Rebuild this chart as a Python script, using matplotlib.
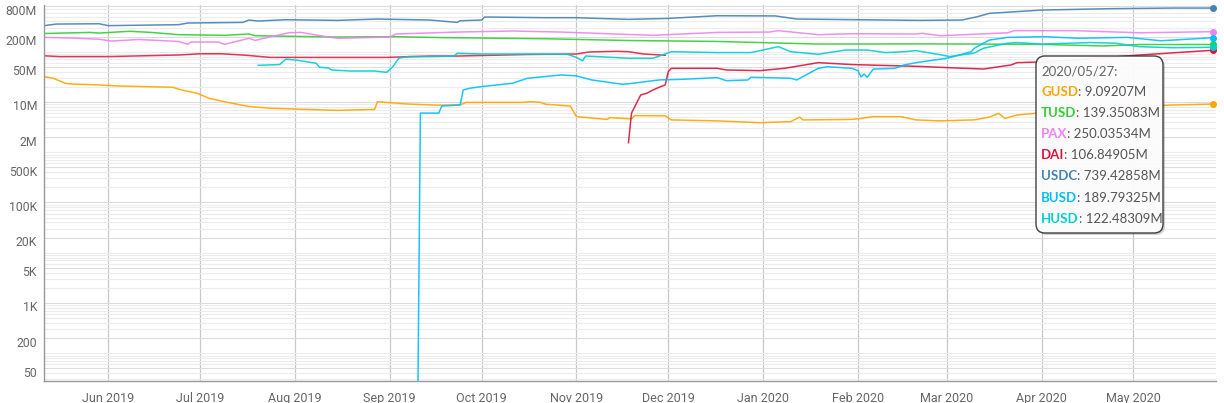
import matplotlib
matplotlib.use("Agg")
import matplotlib.pyplot as plt
import matplotlib.dates as mdates
import matplotlib.ticker as mticker
import matplotlib.transforms as mtrans
from matplotlib.patches import FancyBboxPatch
import pandas as pd

# values in millions of USD
gusd_dates = ["2019-05-11", "2019-05-14", "2019-05-18", "2019-05-20", "2019-05-29", "2019-06-04",
              "2019-06-22", "2019-06-25", "2019-06-30", "2019-07-04", "2019-07-09", "2019-07-17",
              "2019-07-24", "2019-08-05", "2019-08-15", "2019-08-27", "2019-08-28", "2019-09-07",
              "2019-09-17", "2019-09-24", "2019-09-26", "2019-10-14", "2019-10-17", "2019-10-20",
              "2019-10-22", "2019-10-30", "2019-11-01", "2019-11-11", "2019-11-12", "2019-11-19",
              "2019-11-20", "2019-11-30", "2019-12-02", "2019-12-17", "2019-12-31", "2020-01-10",
              "2020-01-13", "2020-01-14", "2020-01-30", "2020-02-02", "2020-02-06", "2020-02-15",
              "2020-02-20", "2020-02-28", "2020-03-10", "2020-03-15", "2020-03-18", "2020-03-20",
              "2020-03-24", "2020-04-01", "2020-04-14", "2020-04-23", "2020-05-03", "2020-05-14",
              "2020-05-27"]
gusd = [32, 29.6, 23.5, 22.8, 21.8, 20.8,
        19.6, 17.3, 14.9, 11.8, 10.1, 8.1,
        7.5, 7.1, 6.8, 7.1, 10.1, 9.1,
        8.6, 8.8, 9.8, 9.8, 10.1, 9.9,
        9.0, 8.3, 5.1, 4.5, 4.87, 4.6,
        5.35, 5.3, 4.39, 4.2, 3.87, 4.06,
        5.0, 4.39, 4.5, 4.7, 5.1, 5.1,
        4.39, 4.2, 4.4, 5.0, 5.95, 4.7,
        5.5, 6.1, 6.9, 7.5, 8.1, 8.7,
        9.09207]

tusd_dates = ["2019-05-11", "2019-05-26", "2019-05-29", "2019-06-08", "2019-06-15", "2019-06-24",
              "2019-07-09", "2019-07-17", "2019-07-19", "2019-08-15", "2019-09-03", "2019-09-20",
              "2019-10-22", "2019-11-18", "2019-12-17", "2020-01-19", "2020-02-21", "2020-03-10",
              "2020-04-01", "2020-04-21", "2020-05-03", "2020-05-27"]
tusd = [230, 242, 235, 255, 242, 218,
        212, 225, 208, 196, 199, 190,
        181, 167, 160, 142, 143, 142,
        140, 130, 139, 139.35083]

pax_dates = ["2019-05-11", "2019-05-20", "2019-05-29", "2019-06-02", "2019-06-11", "2019-06-24",
             "2019-06-27", "2019-06-28", "2019-07-07", "2019-07-09", "2019-07-17", "2019-07-19",
             "2019-07-24", "2019-07-30", "2019-08-03", "2019-08-10", "2019-08-15", "2019-08-28",
             "2019-09-01", "2019-09-03", "2019-09-23", "2019-10-11", "2019-10-27", "2019-11-18",
             "2019-11-26", "2019-12-17", "2020-01-03", "2020-01-06", "2020-01-19", "2020-01-30",
             "2020-02-20", "2020-02-22", "2020-02-28", "2020-03-21", "2020-03-23", "2020-04-12",
             "2020-05-03", "2020-05-27"]
pax = [193, 187, 177, 163, 175, 160,
       140, 156, 156, 140, 185, 168,
       199, 238, 242, 205, 185, 193,
       196, 225, 246, 258, 246, 220,
       212, 242, 246, 262, 218, 228,
       225, 232, 208, 238, 262, 262,
       238, 250.03534]

# old (single-collateral) DAI segment, same colour as DAI
sai_dates = ["2019-05-11", "2019-05-16", "2019-06-01", "2019-06-24", "2019-07-01", "2019-07-08",
             "2019-07-16", "2019-07-24", "2019-08-31", "2019-09-14", "2019-09-23", "2019-10-16",
             "2019-11-01", "2019-11-05", "2019-11-14", "2019-11-18", "2019-11-23", "2019-11-30"]
sai = [83, 80, 80, 86, 91, 91,
       85, 77, 77, 82, 82, 88,
       90, 98.6, 102, 100, 90, 85]

dai_dates = ["2019-11-18", "2019-11-19", "2019-11-22", "2019-11-24", "2019-11-26", "2019-11-28",
             "2019-11-30", "2019-12-01", "2019-12-02", "2019-12-17", "2019-12-20", "2019-12-31",
             "2020-01-08", "2020-01-19", "2020-01-30", "2020-02-21", "2020-03-02", "2020-03-13",
             "2020-03-22", "2020-03-24", "2020-04-02", "2020-04-12", "2020-05-03", "2020-05-27"]
dai = [1.55, 6.0, 13.8, 14.9, 17.3, 19.6,
       21.8, 40, 46.7, 46.7, 43.3, 42,
       46.7, 60.5, 55.5, 51, 48, 45.2,
       54.4, 60.5, 63, 68.4, 86, 106.84905]

usdc_dates = ["2019-05-11", "2019-05-15", "2019-05-29", "2019-06-01", "2019-06-24", "2019-06-27",
              "2019-07-15", "2019-07-17", "2019-07-20", "2019-07-29", "2019-08-15", "2019-08-28",
              "2019-09-14", "2019-09-23", "2019-09-24", "2019-10-01", "2019-10-02", "2019-10-22",
              "2019-11-01", "2019-11-18", "2019-12-01", "2019-12-17", "2020-01-05", "2020-01-12",
              "2020-02-01", "2020-02-21", "2020-03-06", "2020-03-11", "2020-03-15", "2020-04-01",
              "2020-04-23", "2020-05-14", "2020-05-27"]
usdc = [330, 355, 360, 330, 345, 372,
        383, 427, 408, 433, 420, 447,
        427, 383, 413, 427, 490, 475,
        475, 440, 460, 520, 515, 447,
        433, 420, 427, 497, 580, 674,
        717, 739, 739.42858]

busd_dates = ["2019-09-10", "2019-09-11", "2019-09-17", "2019-09-18", "2019-09-24", "2019-09-25",
              "2019-09-27", "2019-10-01", "2019-10-11", "2019-10-16", "2019-10-27", "2019-11-01",
              "2019-11-06", "2019-11-16", "2019-11-18", "2019-11-28", "2019-12-06", "2019-12-17",
              "2019-12-20", "2019-12-27", "2019-12-28", "2020-01-10", "2020-01-12", "2020-01-19",
              "2020-01-22", "2020-01-30", "2020-02-01", "2020-02-02", "2020-02-03", "2020-02-04",
              "2020-02-06", "2020-02-13", "2020-02-16", "2020-02-20", "2020-02-26", "2020-03-01",
              "2020-03-06", "2020-03-09", "2020-03-10", "2020-03-13", "2020-03-15", "2020-03-21",
              "2020-04-02", "2020-04-13", "2020-04-29", "2020-05-10", "2020-05-27"]
busd = [0.000001, 6.0, 6.0, 8.3, 8.7, 17.3,
        18.7, 20.2, 23.5, 29.6, 34.5, 33,
        27.4, 22.5, 23, 27.4, 28.3, 30.5,
        26.5, 27.4, 31, 29.6, 27.4, 46.7,
        50.3, 46.7, 42, 31.4, 36, 31,
        45, 46.7, 54.4, 60.5, 68.4, 74,
        89, 100, 117, 148, 171, 193,
        199, 185, 193, 165, 189.79325]

husd_dates = ["2019-07-20", "2019-07-27", "2019-07-29", "2019-08-01", "2019-08-05", "2019-08-08",
              "2019-08-09", "2019-08-12", "2019-08-13", "2019-08-19", "2019-08-27", "2019-08-31",
              "2019-09-02", "2019-09-04", "2019-09-07", "2019-09-14", "2019-09-22", "2019-09-23",
              "2019-10-01", "2019-10-16", "2019-10-29", "2019-11-01", "2019-11-03", "2019-11-04",
              "2019-11-13", "2019-11-18", "2019-11-26", "2019-11-29", "2019-12-02", "2019-12-17",
              "2019-12-28", "2020-01-06", "2020-01-10", "2020-01-19", "2020-01-28", "2020-02-04",
              "2020-02-10", "2020-02-16", "2020-02-20", "2020-02-27", "2020-03-02", "2020-03-10",
              "2020-03-13", "2020-03-21", "2020-03-24", "2020-04-01", "2020-04-17", "2020-04-25",
              "2020-05-03", "2020-05-14", "2020-05-27"]
husd = [53.6, 55.5, 71, 68.4, 63, 58.7,
        49, 47.4, 43.3, 41.3, 41.3, 38.8,
        50.3, 74.3, 80, 80, 82, 93,
        90, 90, 89, 77, 65.6, 82,
        77, 74, 74, 86, 100, 96,
        96, 126, 100, 89, 108, 108,
        96, 100, 105, 89, 80, 94,
        117, 148, 152, 142, 152, 148,
        126, 120, 122.48309]

series = [
    ("GUSD", gusd_dates, gusd, "orange"),
    ("TUSD", tusd_dates, tusd, "limegreen"),
    ("PAX", pax_dates, pax, "violet"),
    ("DAI", dai_dates, dai, "crimson"),
    ("USDC", usdc_dates, usdc, "steelblue"),
    ("BUSD", busd_dates, busd, "deepskyblue"),
    ("HUSD", husd_dates, husd, "darkturquoise"),
]

ytick_vals = [50, 200, 1e3, 5e3, 2e4, 1e5, 5e5, 2e6, 1e7, 5e7, 2e8, 8e8]
ytick_labels = ["50", "200", "1K", "5K", "20K", "100K", "500K", "2M", "10M", "50M", "200M", "800M"]

W, H = 1224, 403
fig = plt.figure(figsize=(W / 100, H / 100), dpi=100)
ax = fig.add_axes([44 / W, 1 - 381 / H, (1216 - 44) / W, (381 - 5) / H])

# old DAI segment
ax.plot(pd.to_datetime(sai_dates), [v * 1e6 for v in sai], color="crimson", lw=1.1, alpha=0.85)
for name, d, v, c in series:
    x = pd.to_datetime(d)
    y = [val * 1e6 for val in v]
    ax.plot(x, y, color=c, lw=1.1, alpha=0.9, solid_joinstyle="round")
    ax.plot(x[-1], y[-1], "o", color=c, ms=4, mec=c)

ax.set_yscale("log")
ax.set_ylim(28, 8.5e8)
ax.set_xlim(pd.Timestamp("2019-05-11"), pd.Timestamp("2020-05-28"))

ax.yaxis.set_major_locator(mticker.FixedLocator(ytick_vals))
ax.yaxis.set_major_formatter(mticker.FixedFormatter(ytick_labels))
ax.yaxis.set_minor_locator(mticker.LogLocator(base=10, subs=range(1, 10), numticks=50))
ax.yaxis.set_minor_formatter(mticker.NullFormatter())
ax.grid(True, which="minor", axis="y", color="#ececec", lw=0.8)
ax.grid(True, which="major", axis="y", color="#dddddd", lw=0.8)

ax.xaxis.set_major_locator(mdates.MonthLocator(bymonthday=1))
ax.xaxis.set_major_formatter(mdates.DateFormatter("%b %Y"))
ax.grid(True, which="major", axis="x", color="#c8c8c8", lw=0.9)
ax.set_axisbelow(True)

ax.tick_params(axis="both", which="both", length=0, colors="#666666")
ax.tick_params(axis="x", pad=8, labelsize=9)
ax.tick_params(axis="y", pad=5, labelsize=8.8)
for lbl in ax.get_xticklabels() + ax.get_yticklabels():
    lbl.set_fontfamily("Roboto")
off = mtrans.ScaledTranslation(0, -0.035, fig.dpi_scale_trans)
for lbl in ax.get_yticklabels():
    lbl.set_transform(lbl.get_transform() + off)

for s in ["top", "right"]:
    ax.spines[s].set_visible(False)
for s in ["left", "bottom"]:
    ax.spines[s].set_color("#999999")
    ax.spines[s].set_linewidth(1)

# tooltip for the last day
bx0, by0, bx1, by1 = 1036, 56, 1163, 233
shadow = FancyBboxPatch((bx0 + 2, H - by1 - 2), bx1 - bx0, by1 - by0,
                        boxstyle="round,pad=0,rounding_size=9",
                        transform=mtrans.IdentityTransform(), fc="#000000", ec="none", alpha=0.18)
box = FancyBboxPatch((bx0, H - by1), bx1 - bx0, by1 - by0,
                     boxstyle="round,pad=0,rounding_size=9",
                     transform=mtrans.IdentityTransform(), fc="white", ec="#333333", lw=1.0, alpha=0.93)
fig.patches.extend([shadow, box])

tip_font = "Lato"
fig.text(1041 / W, 1 - 71 / H, "2020/05/27:", fontsize=9.5, family=tip_font, color="#666666", va="center")
for i, (name, d, v, c) in enumerate(series):
    ty = 1 - (92 + 21.1 * i) / H
    t = fig.text(1041 / W, ty, name, fontsize=9.5, family=tip_font, weight="bold", color=c, va="center")
    fig.texts.append(
        matplotlib.text.Annotation(": %.5fM" % v[-1], xy=(1, 0.5), xycoords=t, va="center", ha="left",
                                   fontsize=9.5, family=tip_font, color="#555555"))
    fig.texts[-1].set_figure(fig)

fig.savefig("out.png", dpi=100)
